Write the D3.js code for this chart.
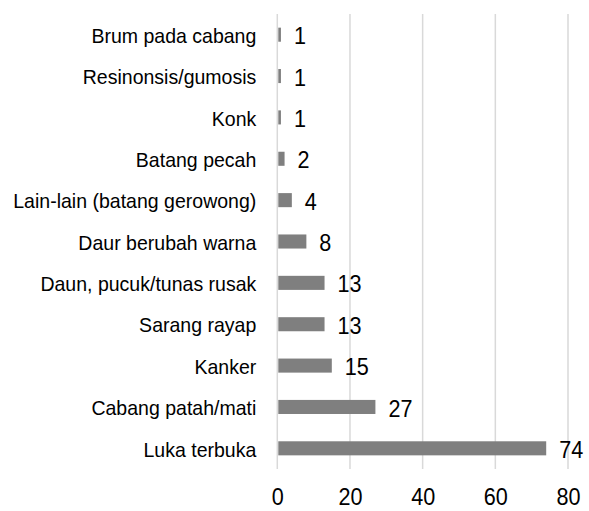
<!DOCTYPE html>
<head>
  <meta charset="utf-8">
  <script src="https://d3js.org/d3.v7.min.js"></script>
  <style>
    body { margin:0; background:#fff; }
    text { font-family: "Liberation Sans", Arial, sans-serif; fill:#000; }
  </style>
</head>

<body>
<script>
  var width = 589, height = 511;

  // categories top to bottom and their counts
  var categories = [
    "Brum pada cabang",
    "Resinonsis/gumosis",
    "Konk",
    "Batang pecah",
    "Lain-lain (batang gerowong)",
    "Daur berubah warna",
    "Daun, pucuk/tunas rusak",
    "Sarang rayap",
    "Kanker",
    "Cabang patah/mati",
    "Luka terbuka"
  ];
  var counts = [1, 1, 1, 2, 4, 8, 13, 13, 15, 27, 74];
  var xTicks = [0, 20, 40, 60, 80];

  // the original uses a narrow font, so squeeze Liberation Sans a bit
  var labelSqueeze = 0.93, numSqueeze = 0.9;

  var svg = d3.select("body").append("svg")
    .attr("width", width)
    .attr("height", height);

  var x = d3.scaleLinear()
    .domain([0, 80])
    .range([277.3, 568]);

  var y = d3.scaleBand()
    .domain(categories)
    .range([14, 469])
    .paddingInner(0.66)
    .paddingOuter(0.33);

  // gridlines
  svg.selectAll("line.grid")
    .data(xTicks)
    .enter().append("line")
    .attr("class", "grid")
    .attr("x1", function(d) { return x(d); })
    .attr("x2", function(d) { return x(d); })
    .attr("y1", 14)
    .attr("y2", 469)
    .attr("stroke", "#d9d9d9")
    .attr("stroke-width", 1.5);

  // bars
  svg.selectAll("rect.bar")
    .data(categories)
    .enter().append("rect")
    .attr("class", "bar")
    .attr("x", x(0) + 1)
    .attr("y", function(d) { return y(d); })
    .attr("width", function(d, i) { return x(counts[i]) - x(0) - 1; })
    .attr("height", y.bandwidth())
    .attr("fill", "#7f7f7f");

  // value labels
  svg.selectAll("text.val")
    .data(categories)
    .enter().append("text")
    .attr("class", "val")
    .attr("transform", function(d, i) {
      return "translate(" + (x(counts[i]) + 13) + "," + (y(d) + y.bandwidth() / 2) + ") scale(" + numSqueeze + ",1)";
    })
    .attr("dy", "0.4em")
    .attr("font-size", 24)
    .text(function(d, i) { return counts[i]; });

  // category labels
  svg.append("g")
    .attr("transform", "translate(" + x(0) + ",0)")
    .call(d3.axisLeft(y).tickSize(0).tickPadding(21))
    .call(function(g) { g.select(".domain").remove(); })
    .selectAll("text")
    .attr("font-size", 21)
    .attr("font-family", null)
    .attr("dy", "0.39em")
    .attr("x", -21 / labelSqueeze)
    .attr("transform", "scale(" + labelSqueeze + ",1)");

  // x axis labels
  var xAxis = svg.append("g")
    .attr("transform", "translate(0,469)")
    .call(d3.axisBottom(x).tickValues(xTicks).tickSize(0).tickPadding(19))
    .call(function(g) { g.select(".domain").remove(); });

  xAxis.selectAll("text")
    .attr("font-size", 24)
    .attr("font-family", null);

  // squeeze each tick label around its own centre
  xAxis.selectAll(".tick").each(function() {
    var g = d3.select(this);
    g.attr("transform", g.attr("transform") + " scale(" + numSqueeze + ",1)");
  });
</script>
</body>
